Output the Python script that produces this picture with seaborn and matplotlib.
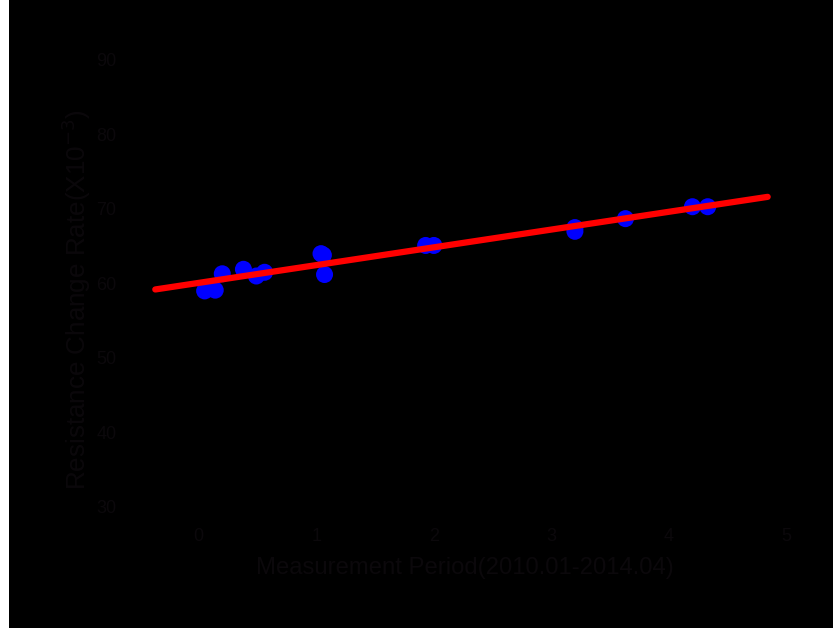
import numpy as np
import pandas as pd
import matplotlib
matplotlib.use("Agg")
import matplotlib.pyplot as plt
from matplotlib.patches import Rectangle
import seaborn as sns

# Measured resistance change over the measurement period
period = [0.05, 0.14, 0.20, 0.38, 0.49, 0.56, 1.04, 1.06, 1.07, 1.93, 2.00, 3.20, 3.20, 3.63, 4.20, 4.33]
change = [59.0, 59.1, 61.3, 61.9, 61.0, 61.5, 64.0, 63.8, 61.2, 65.1, 65.1, 67.5, 67.0, 68.7, 70.3, 70.3]

# Range over which the fitted trend line is drawn
fit_range = [-0.37, 4.84]

x_ticks = [0, 1, 2, 3, 4, 5]
y_ticks = [30, 40, 50, 60, 70, 80, 90]

sns.set_theme(style="white")
plt.rcParams["font.family"] = ["Liberation Sans", "DejaVu Sans"]

text_color = "#0b080b"
df = pd.DataFrame({"period": period, "change": change})

slope, intercept = np.polyfit(df["period"], df["change"], 1)
fit_df = pd.DataFrame({"period": fit_range})
fit_df["change"] = intercept + slope * fit_df["period"]

fig = plt.figure(figsize=(8.33, 6.28), dpi=100, facecolor="black")
# x: 0 -> 199 px, 117.5 px/unit; y: 30 -> 507 px, 7.45 px/unit
ax = fig.add_axes([140 / 833, (628 - 520) / 628, 670 / 833, (520 - 37.6) / 628])
ax.set_facecolor("black")

sns.lineplot(data=fit_df, x="period", y="change", ax=ax, color="#ff0000",
             linewidth=4.5, zorder=3)
sns.scatterplot(data=df, x="period", y="change", ax=ax, color="#0000ff",
                s=150, edgecolor="none", zorder=2)

ax.set_xlim(-0.5, 5.2)
ax.set_ylim(28.25, 93)
ax.set_xticks(x_ticks)
ax.set_yticks(y_ticks)
ax.tick_params(colors=text_color, labelsize=13, length=0)
ax.tick_params(axis="x", pad=6)
ax.tick_params(axis="y", pad=17)
for s in ax.spines.values():
    s.set_visible(False)

ax.set_xlabel("Measurement Period(2010.01-2014.04)", color=text_color,
              fontsize=17.2)
ax.xaxis.set_label_coords(0.485, -0.077)
ax.set_ylabel("Resistance Change Rate(X10$^{-3}$)", color=text_color,
              fontsize=18.7)
ax.yaxis.set_label_coords(-0.070, 0.456)

# thin white strip along the left edge of the canvas
fig.patches.append(Rectangle((0, 0), 9 / 833, 1, transform=fig.transFigure,
                             facecolor="white", edgecolor="none", zorder=0))

fig.savefig("out.png", dpi=100, facecolor=fig.get_facecolor())
